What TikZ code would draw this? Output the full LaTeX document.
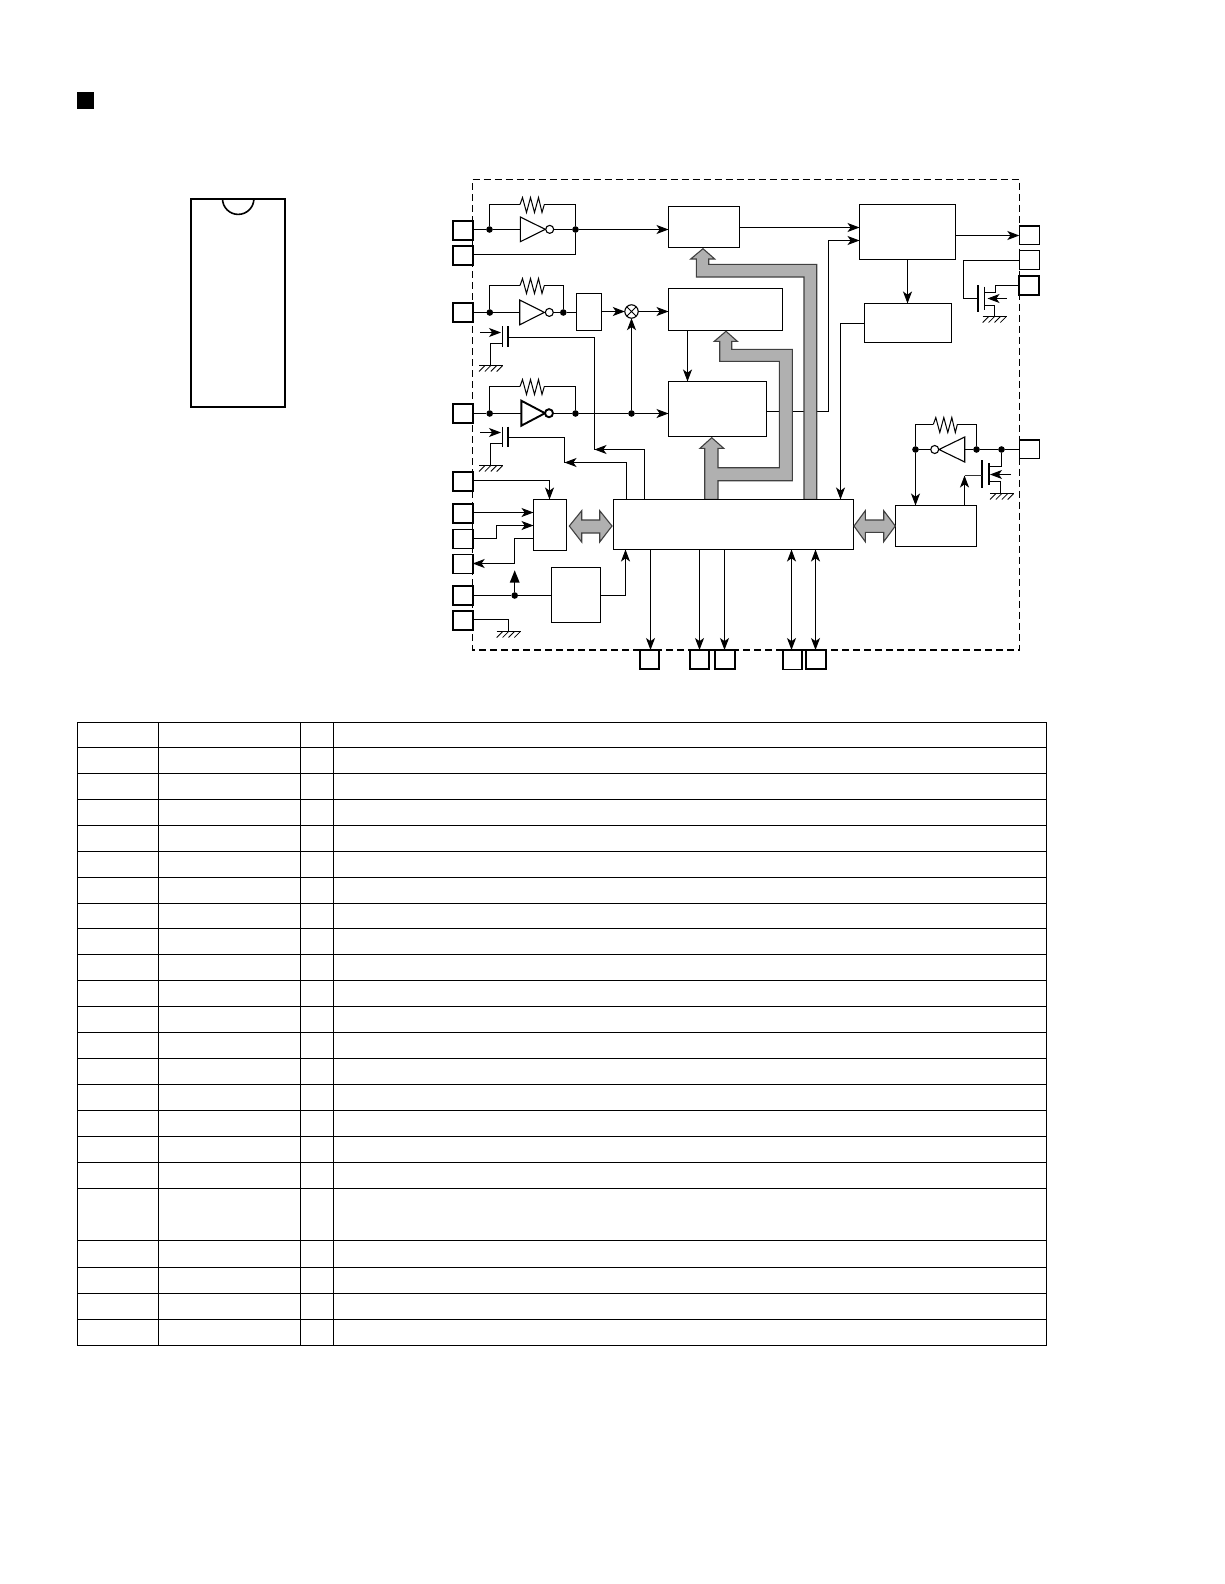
\documentclass[tikz,border=0pt]{standalone}
\usetikzlibrary{arrows.meta}
\definecolor{busgray}{HTML}{B0B0B0}
\tikzset{
  wire/.style={line width=1pt,line join=miter},
  sig/.style={wire,-{Stealth[length=12pt,width=9pt,inset=3.2pt]}},
  sigb/.style={wire,{Stealth[length=12pt,width=9pt,inset=3.2pt]}-{Stealth[length=12pt,width=9pt,inset=3.2pt]}},
  block/.style={draw,fill=white,line width=1pt,inner sep=0pt,outer sep=0pt},
  pinbox/.style={draw,fill=white,line width=1.6pt,inner sep=0pt,outer sep=0pt},
  pinheavy/.style={pinbox,line width=2pt},
  dot/.style={circle,fill=black,inner sep=0pt,outer sep=0pt,minimum size=6.6pt},
  bus/.style={fill=busgray,draw=black!75,line width=1.1pt,line join=miter},
  grid/.style={line width=1pt},
}
% rectangle node from corner coordinates
\newcommand{\boxnode}[6]{\node[#1,minimum width={(#5)-(#3)},minimum height={(#6)-(#4)}] (#2) at ({((#3)+(#5))/2},{((#4)+(#6))/2}) {};}
\newcommand{\gnd}[3]{%
  \draw[wire] (#1,#3) -- (#2,#3);
  \foreach \k in {0,1,2,3}{\draw[line width=0.8pt] ({#1+6+\k*5.9},#3) -- ++(-6,6);}
}
\newcommand{\resistor}[3]{% x1 x2 y (zigzag occupying x1..x2)
  \draw[wire] (#1,#3) -- ++(2.5,-7) -- ++(4,15) -- ++(4,-15) -- ++(4,15) -- ++(4,-15) -- ++(3.5,15) -- (#2,#3);
}
\newcommand{\invert}[6]{% base x, tip x, y top, y bottom, bubble x, line width
  \draw[line width=#6,line join=miter] (#1,#3) -- (#2,{(#3+#4)/2}) -- (#1,#4) -- cycle;
  \draw[line width=#6,fill=white] (#5,{(#3+#4)/2}) circle (4);
}
\begin{document}
\begin{tikzpicture}[x=1pt,y=-1pt]
\useasboundingbox[fill=white] (0,0) rectangle (1224,1584);

% title mark
\fill (77,92) rectangle (94,109);

% package outline
\draw[line width=2pt] (190.7,198.7) rectangle (285.3,406.7);
\draw[line width=1.6pt] (222.5,198.7) arc[start angle=180,end angle=0,radius=15.7];

% enclosure
\draw[line width=1.2pt,dash pattern=on 7pt off 4pt] (472.7,179.3) -- (1019.3,179.3) -- (1019.3,650) -- (472.7,650) -- cycle;

% junctions
\node[dot] (j1a) at (489.5,229.5) {};
\node[dot] (j1b) at (575.5,229.5) {};
\node[dot] (j2a) at (489.8,312.5) {};
\node[dot] (j2b) at (563.3,312.5) {};
\node[dot] (j3a) at (489.7,413.5) {};
\node[dot] (j3b) at (575.5,413.5) {};
\node[dot] (j3c) at (631.5,413.5) {};
\node[dot] (j4a) at (915.5,449.5) {};
\node[dot] (j4b) at (976.5,449.5) {};
\node[dot] (j4c) at (1001.5,449.5) {};
\node[dot] (j5) at (514.7,595.5) {};

% blocks
\boxnode{block}{bA}{668.5}{206.5}{739.5}{247.5}
\boxnode{block}{bB}{668.5}{288.5}{782.5}{330.5}
\boxnode{block}{bC}{668.5}{381.5}{766.5}{436.5}
\boxnode{block}{bS}{576.5}{293.5}{601.5}{330.5}
\boxnode{block}{bD}{859.5}{204.5}{955.5}{259.5}
\boxnode{block}{bE}{864.5}{303.5}{951.5}{342.5}
\boxnode{block}{bM}{613.5}{499.5}{853.5}{549.5}
\boxnode{block}{bF}{533.5}{499.5}{566.5}{550.5}
\boxnode{block}{bG}{551.5}{567.5}{600.5}{622.5}
\boxnode{block}{bH}{895.5}{505.5}{976.5}{546.5}
\node[draw,circle,fill=white,line width=1.1pt,minimum size=13.4pt,inner sep=0pt,outer sep=0pt] (mx) at (631.5,311.5) {};
\draw[line width=1pt] (mx.north west) -- (mx.south east) (mx.north east) -- (mx.south west);

% pins
\boxnode{pinheavy}{pL1}{452.7}{221}{472.7}{240}
\boxnode{pinheavy}{pL2}{452.7}{246}{472.7}{265}
\boxnode{pinbox}{pL3}{452.7}{302.7}{472.7}{321.7}
\boxnode{pinheavy}{pL4}{452.7}{404}{472.7}{423.3}
\boxnode{pinheavy}{pL5}{452.7}{472}{472.7}{491.3}
\boxnode{pinheavy}{pL6}{452.7}{504}{472.7}{523}
\boxnode{pinbox}{pL7}{452.7}{529.3}{472.7}{548.3}
\boxnode{pinbox}{pL8}{452.7}{554.3}{472.7}{573.3}
\boxnode{pinheavy}{pL9}{452.7}{585.7}{472.7}{605}
\boxnode{pinheavy}{pL10}{452.7}{611}{472.7}{630}
\boxnode{pinbox}{pR1}{1019.3}{225.7}{1039.3}{244.3}
\boxnode{pinbox}{pR2}{1019.3}{250.3}{1039.3}{269.3}
\boxnode{pinheavy}{pR3}{1019.3}{276}{1039.3}{295}
\boxnode{pinbox}{pR4}{1019.3}{439.7}{1039.3}{458.3}
\boxnode{pinheavy}{pB1}{640}{650}{659.3}{669.3}
\boxnode{pinheavy}{pB2}{689.7}{650}{709.3}{669.3}
\boxnode{pinheavy}{pB3}{714.7}{650}{734.7}{669.3}
\boxnode{pinbox}{pB4}{782.7}{650}{801.7}{669.3}
\boxnode{pinheavy}{pB5}{805.7}{650}{825.7}{669.3}

% input stage 1
\draw[wire] (pL1.east |- j1a) -- (j1a) -- (520.3,229.5);
\draw[wire] (554,229.5) -- (j1b);
\draw[sig] (j1b) -- (bA.west |- j1b);
\draw[wire] (j1a) |- (520,204.5);
\resistor{520}{544.3}{204.5}
\draw[wire] (544.3,204.5) -| (j1b);
\draw[wire] (pL2.east |- 0,254.5) -| (j1b);
\invert{520.3}{545.3}{217}{241.7}{549.7}{1.1pt}

% input stage 2
\draw[wire] (pL3.east |- j2a) -- (j2a) -- (519.7,312.5);
\draw[wire] (553.5,312.5) -- (j2b) -- (bS.west |- j2b);
\draw[wire] (j2a) |- (520,285.5);
\resistor{520}{544.3}{285.5}
\draw[wire] (544.3,285.5) -| (j2b);
\invert{519.7}{544.3}{300}{324.8}{549.3}{1.1pt}
\draw[sig] (bS.east |- mx) -- (mx.west);
\draw[sig] (mx.east) -- (bB.west |- mx);

% input stage 3
\draw[wire] (pL4.east |- j3a) -- (j3a) -- (521.3,413.5);
\draw[wire] (553,413.5) -- (j3b) -- (j3c);
\draw[sig] (j3c) -- (bC.west |- j3c);
\draw[sig] (j3c) -- (mx.south);
\draw[wire] (j3a) |- (520,386.5);
\resistor{520}{544.3}{386.5}
\draw[wire] (544.3,386.5) -| (j3b);
\invert{521.3}{545}{400.7}{425.7}{549}{1.9pt}

% capacitors
\foreach \yy/\aa/\pp/\qq/\gg in {326/332.5/343.5/337.5/365.5,426.7/432.5/443.5/437.5/465.5}{
  \draw[line width=1.5pt] (502.3,\yy) -- ++(0,20.5);
  \draw[line width=2pt] (508,\yy) -- ++(0,20.5);
  \draw[sig] (480,\aa) -- (501,\aa);
  \draw[wire] (502.3,\pp) -| (490.5,\gg);
}
\gnd{479}{503.3}{365.5}
\gnd{479}{503.3}{465.5}
\coordinate (c1o) at (594.5,449.5);
\coordinate (c2o) at (564.5,462.5);
\draw[wire] (508,337.5) -| (c1o);
\draw[wire] (508,437.5) -| (c2o);
\draw[sig] (644.5,499.5) |- (c1o);
\draw[sig] (626.5,499.5) |- (c2o);

% block links
\draw[sig] (687.5,330.5) -- (687.5,381.5);
\draw[sig] (bA.east |- 0,227.5) -- (bD.west |- 0,227.5);
\draw[sig] (bC.east |- 0,411.5) -| (828.5,240.5) -- (bD.west |- 0,240.5);
\draw[sig] (bD.east |- 0,235.5) -- (pR1.west |- 0,235.5);
\draw[sig] (907.5,259.5) -- (907.5,303.5);
\draw[sig] (bE.west) -| (840.5,499.5);

% output transistor, upper right
\coordinate (gA) at (977.7,298.5);
\draw[wire] (pR2.west |- 0,260.5) -| (963.5,298.5) -- (gA);
\draw[line width=2pt] (977.7,285) -- (977.7,311.7);
\draw[line width=1.2pt] (984.3,286.7) -- (984.3,310);
\draw[wire] (984.3,292.5) -| (995.5,285.5) -- (pR3.west |- 0,285.5);
\draw[wire] (984.3,305.5) -| (994.5,316.5);
\gnd{982.7}{1007.3}{316.5}
\draw[sig] (1006.7,298.5) -- (987.5,298.5);

% stage 4 with transistor, lower right
\draw[wire] (pR4.west |- j4c) -- (j4c) -- (j4b) -- (964.7,449.5);
\draw[wire] (930.7,449.5) -- (j4a);
\draw[wire] (j4a) |- (933.3,424.5);
\resistor{933.3}{957.3}{424.5}
\draw[wire] (957.3,424.5) -| (j4b);
\invert{964.7}{939}{437}{462}{934.7}{1.1pt}
\draw[sig] (j4a) -- (j4a |- bH.north);
\draw[wire] (j4c) |- (989,466.5);
\draw[line width=2pt] (982.3,460) -- (982.3,487.7);
\draw[line width=1.2pt] (989,463.3) -- (989,485);
\draw[wire] (989,481.5) -| (1000.5,493.5);
\gnd{990}{1014}{493.5}
\draw[sig] (1011,474.5) -- (990,474.5);
\draw[wire,black!80] (982.3,475.5) -- (964.5,475.5);
\draw[sig] (964.5,505.5) -- (964.5,475.5);

% lower left
\draw[sig] (pL5.east |- 0,480.5) -| (549.5,499.5);
\draw[sig] (pL6.east |- 0,512.5) -- (bF.west |- 0,512.5);
\draw[sig] (pL7.east |- 0,538.5) -| (496.5,525.5) -- (bF.west |- 0,525.5);
\draw[sig] (bF.west |- 0,538.5) -| (514.5,563.5) -- (pL8.east |- 0,563.5);
\draw[wire] (pL9.east |- j5) -- (j5) -- (bG.west |- j5);
\draw[wire] (j5) -- (514.7,580);
\fill (514.7,570.3) -- (519.7,582.7) -- (509.7,582.7) -- cycle;
\draw[wire] (pL10.east |- 0,619.5) -| (508.5,631.5);
\gnd{496.7}{521.3}{631.5}
\draw[sig] (bG.east |- j5) -| (625.5,549.5);

% bottom links
\draw[sig] (650.5,549.5) -- (650.5,650);
\draw[sig] (699.5,549.5) -- (699.5,650);
\draw[sig] (724.5,549.5) -- (724.5,650);
\draw[sigb] (791.5,549.5) -- (791.5,650);
\draw[sigb] (815.5,549.5) -- (815.5,650);

% buses
\draw[bus] (703,248.7) -- (714.7,259) -- (708.7,259) -- (708.7,264.3) -- (816.7,264.3) -- (816.7,499.3) -- (804,499.3) -- (804,277) -- (696.3,277) -- (696.3,259) -- (690.7,259) -- cycle;
\draw[bus] (726,331.3) -- (737.3,341.3) -- (731.7,341.3) -- (731.7,349.3) -- (792.3,349.3) -- (792.3,480.7) -- (718,480.7) -- (718,499.3) -- (704.7,499.3) -- (704.7,448.3) -- (700,448.3) -- (711.7,437.7) -- (723.7,448.3) -- (718,448.3) -- (718,467.7) -- (779.3,467.7) -- (779.3,361.3) -- (719.7,361.3) -- (719.7,341.3) -- (714.3,341.3) -- cycle;
\draw[bus] (569.3,526) -- (581.7,510.7) -- (581.7,520) -- (599.7,520) -- (599.7,510.7) -- (612,526) -- (599.7,542) -- (599.7,533) -- (581.7,533) -- (581.7,542) -- cycle;
\draw[bus] (854,526) -- (865.3,510.7) -- (865.3,520) -- (883.7,520) -- (883.7,510.7) -- (895.3,526) -- (883.7,541.7) -- (883.7,532.3) -- (865.3,532.3) -- (865.3,541.7) -- cycle;
\draw[line width=1pt] (613.5,499.5) -- (853.5,499.5);

% table
\draw[grid] (77.5,722.5) rectangle (1046.5,1345.5);
\foreach \xx in {158.5,300.5,333.5}{\draw[grid] (\xx,722.5) -- (\xx,1345.5);}
\foreach \yy in {747.5,773.5,799.5,825.5,851.5,877.5,903.5,928.5,954.5,980.5,1006.5,1032.5,1058.5,1084.5,1110.5,1136.5,1162.5,1188.5,1240.5,1267.5,1293.5,1319.5}{
  \draw[grid] (77.5,\yy) -- (1046.5,\yy);
}
\end{tikzpicture}
\end{document}
